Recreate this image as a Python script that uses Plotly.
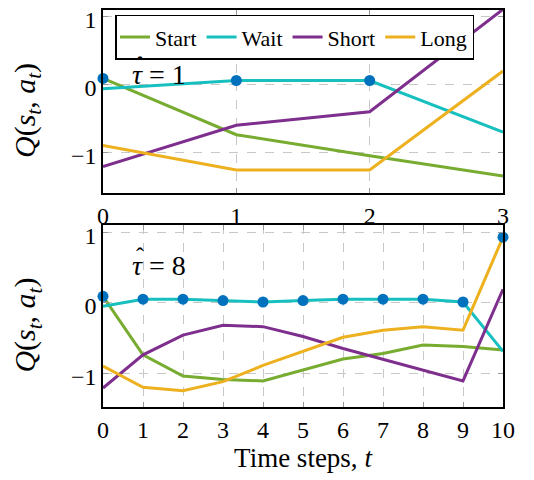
import plotly.graph_objects as go
from plotly.subplots import make_subplots

# ---- data ----
t_top = [0, 1, 2, 3]
start_top = [0.09, -0.74, -1.05, -1.35]
wait_top = [-0.06, 0.06, 0.06, -0.70]
short_top = [-1.21, -0.60, -0.40, 1.11]
long_top = [-0.90, -1.26, -1.26, 0.20]

t_bot = [0, 1, 2, 3, 4, 5, 6, 7, 8, 9, 10]
start_bot = [0.09, -0.74, -1.04, -1.09, -1.11, -0.95, -0.80, -0.72, -0.60, -0.62, -0.67]
wait_bot = [-0.05, 0.05, 0.05, 0.03, 0.01, 0.03, 0.05, 0.05, 0.05, 0.01, -0.69]
short_bot = [-1.21, -0.74, -0.46, -0.32, -0.34, -0.48, -0.65, -0.80, -0.95, -1.11, 0.19]
long_bot = [-0.90, -1.20, -1.25, -1.12, -0.89, -0.69, -0.49, -0.39, -0.34, -0.39, 0.93]

y_ticks = [-1, 0, 1]
names = ["Start", "Wait", "Short", "Long"]
colors = ["#77AC30", "#17BFBF", "#7E2F8E", "#EDB120"]
marker_color = "#0072BD"
tau_labels = ["1", "8"]

FONT = "Liberation Serif"

fig = make_subplots(rows=2, cols=1, vertical_spacing=0.08)

top_series = [start_top, wait_top, short_top, long_top]
bot_series = [start_bot, wait_bot, short_bot, long_bot]

for i, (nm, col) in enumerate(zip(names, colors)):
    fig.add_trace(go.Scatter(x=t_top, y=top_series[i], mode="lines", name=nm,
                             line=dict(color=col, width=3), legendgroup=nm,
                             showlegend=True, cliponaxis=False), row=1, col=1)
for i, (nm, col) in enumerate(zip(names, colors)):
    fig.add_trace(go.Scatter(x=t_bot, y=bot_series[i], mode="lines", name=nm,
                             line=dict(color=col, width=3), legendgroup=nm,
                             showlegend=False, cliponaxis=False), row=2, col=1)

max_top = [max(v) for v in zip(*top_series)]
max_bot = [max(v) for v in zip(*bot_series)]
fig.add_trace(go.Scatter(x=t_top, y=max_top, mode="markers", showlegend=False,
                         marker=dict(color=marker_color, size=11), cliponaxis=False),
              row=1, col=1)
fig.add_trace(go.Scatter(x=t_bot, y=max_bot, mode="markers", showlegend=False,
                         marker=dict(color=marker_color, size=11), cliponaxis=False),
              row=2, col=1)

axis_common = dict(showline=True, linecolor="black", linewidth=1.5, mirror="ticks",
                   showgrid=True, gridcolor="#c8c8c8", griddash="dash", gridwidth=1,
                   zeroline=False, ticks="inside", tickcolor="#999999", ticklen=5,
                   automargin=False, ticklabeloverflow="allow",
                   tickfont=dict(family=FONT, size=24, color="black"))

fig.update_xaxes(axis_common)
fig.update_yaxes(axis_common)
fig.update_yaxes(ticklabelshift=3)
fig.update_xaxes(range=[0, 3], tickvals=t_top, row=1, col=1)
fig.update_xaxes(range=[0, 10], tickvals=t_bot, row=2, col=1,
                 title=dict(text="Time steps, <i>t</i>", font=dict(family=FONT, size=27, color="black"),
                            standoff=6))
fig.update_yaxes(range=[-1.6, 1.1], tickvals=y_ticks, row=1, col=1)
fig.update_yaxes(range=[-1.48, 1.1], tickvals=y_ticks, row=2, col=1)

top_dom = [0.539, 1.0]
bot_dom = [0.0, 0.458]
fig.update_layout(yaxis=dict(domain=top_dom), yaxis2=dict(domain=bot_dom))

ytitle = "<i>Q</i>(<i>s<sub>t</sub></i>, <i>a<sub>t</sub></i>)"
annotations = []
for dom in (top_dom, bot_dom):
    annotations.append(dict(text=ytitle, xref="paper", yref="paper", x=-0.19,
                            y=(dom[0] + dom[1]) / 2 - 0.024, xanchor="center", yanchor="middle",
                            textangle=-90, showarrow=False,
                            font=dict(family=FONT, size=30, color="black")))

tau_pos = [("x", "y", 0.2, 0.15), ("x2", "y2", 0.675, 0.53)]
for lab, (xr, yr, xx, yy) in zip(tau_labels, tau_pos):
    annotations.append(dict(text="<i>τ</i> = " + lab, xref=xr, yref=yr, x=xx, y=yy,
                            xanchor="left", yanchor="middle", showarrow=False,
                            font=dict(family=FONT, size=28, color="black")))
    annotations.append(dict(text="ˆ", xref=xr, yref=yr, x=xx, y=yy, xshift=4, yshift=9,
                            xanchor="left", yanchor="middle", showarrow=False,
                            font=dict(family=FONT, size=24, color="black")))

fig.update_layout(
    width=534, height=480,
    margin=dict(l=95, r=39, t=2, b=81),
    paper_bgcolor="white", plot_bgcolor="white",
    font=dict(family=FONT, color="black"),
    showlegend=True,
    legend=dict(orientation="h", x=0.03, y=0.988, xanchor="left", yanchor="top",
                bgcolor="white", bordercolor="black", borderwidth=1.5,
                font=dict(family=FONT, size=22, color="black"),
                itemwidth=30, tracegroupgap=0),
    annotations=annotations,
)

fig.write_html("out.html")
